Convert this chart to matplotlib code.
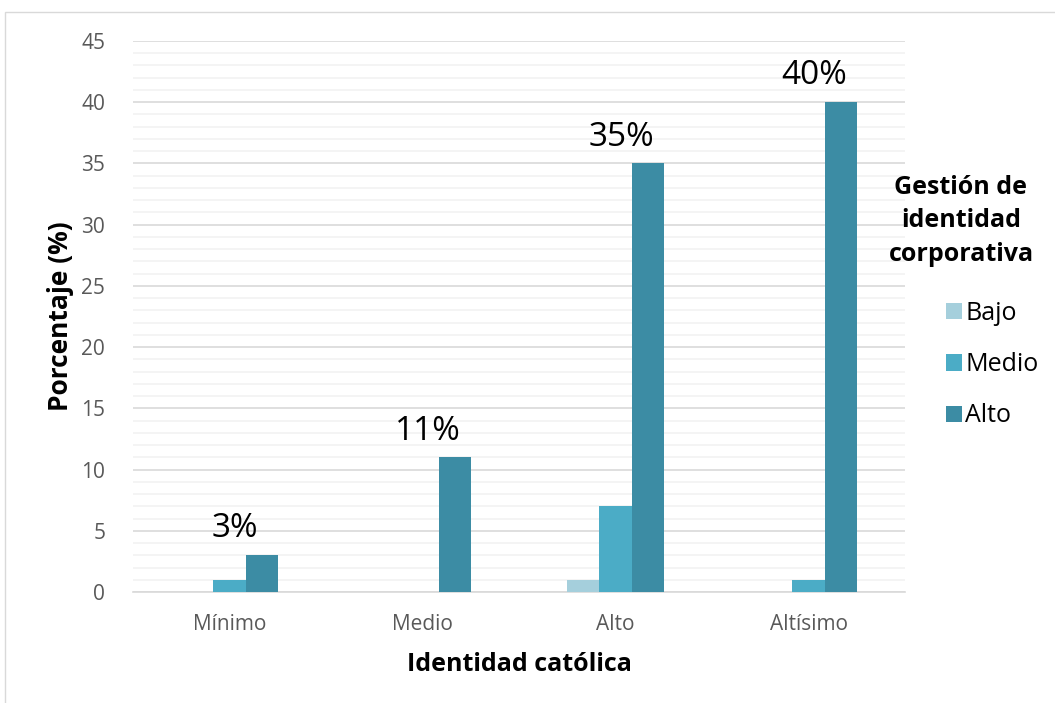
import matplotlib
matplotlib.use("Agg")
import matplotlib.pyplot as plt
import numpy as np
from matplotlib.patches import Rectangle

categories = ["Mínimo", "Medio", "Alto", "Altísimo"]
series_names = ["Bajo", "Medio", "Alto"]
bajo = [0, 0, 1, 0]
medio = [1, 0, 7, 1]
alto = [3, 11, 35, 40]
labels = ["3%", "11%", "35%", "40%"]
yticks = [0, 5, 10, 15, 20, 25, 30, 35, 40, 45]

colors = ["#A5CFDC", "#4BACC6", "#3C8CA4"]

W, H = 1055, 703
fig = plt.figure(figsize=(W / 100, H / 100), dpi=100)
fig.patch.set_facecolor("white")

# chart area border
fig.add_artist(Rectangle((5 / W, -0.01), 1.1, 1 - 12 / H + 0.01, transform=fig.transFigure,
                         fill=False, edgecolor="#D9D9D9", linewidth=1))

ax = fig.add_axes([133 / W, 1 - 592 / H, (905 - 133) / W, (592 - 41) / H])
x = np.arange(len(categories))
w = 0.166
handles = []
for i, (vals, c) in enumerate(zip([bajo, medio, alto], colors)):
    b = ax.bar(x + (i - 1) * w, vals, width=w, color=c, label=series_names[i], zorder=3)
    handles.append(b)

for xi, v, lab in zip(x, alto, labels):
    ax.text(xi + 0.03, v + 0.8, lab, ha="center", va="bottom", fontsize=24,
            family="Open Sans", color="black")

ax.set_xlim(-0.5, 3.5)
ax.set_ylim(0, 45)
ax.set_yticks(yticks)
ax.set_yticks(np.arange(0, 46, 1), minor=True)
ax.set_xticks(x)
ax.set_xticklabels(categories)
ax.grid(axis="y", which="major", color="#D9D9D9", linewidth=1.2, zorder=0)
ax.grid(axis="y", which="minor", color="#F2F2F2", linewidth=1.2, zorder=0)
ax.tick_params(axis="both", which="both", length=0)
ax.tick_params(axis="y", pad=20, labelsize=15, labelcolor="#595959")
ax.tick_params(axis="x", pad=16, labelsize=15, labelcolor="#595959")
for lab in ax.get_xticklabels() + ax.get_yticklabels():
    lab.set_family("Open Sans")
for s in ["top", "right", "left"]:
    ax.spines[s].set_visible(False)
ax.spines["bottom"].set_color("#D9D9D9")
ax.spines["bottom"].set_linewidth(1.2)

ax.set_ylabel("Porcentaje (%)", fontsize=19, fontweight="bold", family="Open Sans")
ax.yaxis.set_label_coords((74 - 133) / 772, 0.5)
ax.set_xlabel("Identidad católica", fontsize=18, fontweight="bold", family="Open Sans", labelpad=12)

fig.text(961 / W, 1 - 221 / H, "Gestión de\nidentidad\ncorporativa", ha="center", va="center",
         multialignment="center", fontsize=18, fontweight="bold", family="Open Sans",
         linespacing=1.45)

leg = fig.legend(handles=handles, labels=series_names, loc="upper left",
                 bbox_to_anchor=(946 / W, 1 - 301 / H), frameon=False,
                 prop={"family": "Open Sans", "size": 18}, borderpad=0, borderaxespad=0,
                 handlelength=0.62, handleheight=0.62, handletextpad=0.15, labelspacing=1.05)

fig.savefig("out.png", dpi=100)
